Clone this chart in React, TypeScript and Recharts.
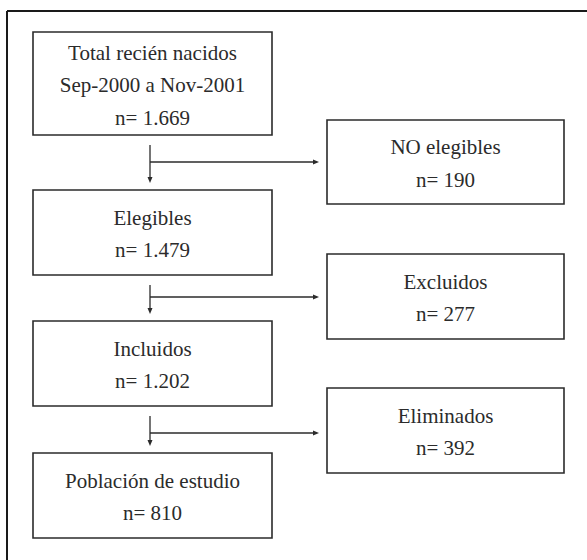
import { ScatterChart, XAxis, YAxis, ReferenceArea, ReferenceLine } from "recharts"

// flow steps (main column) and the branches that leave it
const mainLabels = [["Total recién nacidos", "Sep-2000 a Nov-2001"], ["Elegibles"], ["Incluidos"], ["Población de estudio"]]
const mainCounts = ["1.669", "1.479", "1.202", "810"]
const sideLabels = ["NO elegibles", "Excluidos", "Eliminados"]
const sideCounts = ["190", "277", "392"]

// layout (pixel units, y grows downward)
const W = 587
const H = 560
const mainTops = [32, 190, 321, 453]
const mainBottoms = [135, 275, 406, 538]
const sideTops = [120, 254, 388]
const sideBottoms = [204, 339, 473]
const mainX = [33, 272]
const sideX = [327, 564]
const stemX = 150
const branchY = [162, 297, 433]

const INK = "#2b2b2b"
const FONT = "'Liberation Serif', 'DejaVu Serif', serif"

const boxText = (lines: string[]) => (props: any) => {
  const { x, y, width, height } = props.viewBox
  const cy = y + height / 2 + 1.5
  const start = cy - ((lines.length - 1) * 32.5) / 2
  return (
    <g>
      {lines.map((t, i) => (
        <text
          key={i}
          x={x + width / 2}
          y={start + i * 32.5}
          textAnchor="middle"
          dominantBaseline="central"
          fontFamily={FONT}
          fontSize={21}
          fill={INK}
        >
          {t}
        </text>
      ))}
    </g>
  )
}

const arrow = (head: boolean) => (p: any) => {
  const { x1, y1, x2, y2 } = p
  const dx = x2 - x1
  const dy = y2 - y1
  const len = Math.sqrt(dx * dx + dy * dy) || 1
  const ux = dx / len
  const uy = dy / len
  const L = 6
  const w = 2.5
  const bx = x2 - ux * L
  const by = y2 - uy * L
  return (
    <g>
      <line x1={x1} y1={y1} x2={head ? bx : x2} y2={head ? by : y2} stroke={INK} strokeWidth={1.3} />
      {head && (
        <polygon
          points={`${x2},${y2} ${bx - uy * w},${by + ux * w} ${bx + uy * w},${by - ux * w}`}
          fill={INK}
        />
      )}
    </g>
  )
}

export default function App() {
  return (
    <div style={{ background: "#fff" }}>
      <style>{"body{margin:0}"}</style>
      <ScatterChart width={W} height={H} margin={{ top: 0, right: 0, bottom: 0, left: 0 }}>
        <XAxis type="number" dataKey="x" domain={[0, W]} hide allowDataOverflow />
        <YAxis type="number" dataKey="y" domain={[0, H]} reversed hide allowDataOverflow />

        {/* outer frame (only top and left edges fall inside the picture) */}
        <ReferenceLine segment={[{ x: 7, y: 11 }, { x: W, y: 11 }]} stroke="#1a1a1a" strokeWidth={2} ifOverflow="visible" />
        <ReferenceLine segment={[{ x: 7, y: 11 }, { x: 7, y: H }]} stroke="#1a1a1a" strokeWidth={2} ifOverflow="visible" />

        {mainLabels.map((lines, i) => (
          <ReferenceArea
            key={"m" + i}
            x1={mainX[0]}
            x2={mainX[1]}
            y1={mainTops[i]}
            y2={mainBottoms[i]}
            fill="#fff"
            fillOpacity={1}
            stroke={INK}
            strokeWidth={1.6}
            ifOverflow="visible"
            label={boxText([...lines, "n= " + mainCounts[i]])}
          />
        ))}

        {sideLabels.map((name, i) => (
          <ReferenceArea
            key={"s" + i}
            x1={sideX[0]}
            x2={sideX[1]}
            y1={sideTops[i]}
            y2={sideBottoms[i]}
            fill="#fff"
            fillOpacity={1}
            stroke={INK}
            strokeWidth={1.6}
            ifOverflow="visible"
            label={boxText([name, "n= " + sideCounts[i]])}
          />
        ))}

        {sideLabels.map((_, i) => (
          <ReferenceLine
            key={"v" + i}
            segment={[{ x: stemX, y: mainBottoms[i] + 10 }, { x: stemX, y: mainTops[i + 1] - 7 }]}
            ifOverflow="visible"
            shape={arrow(true)}
          />
        ))}
        {sideLabels.map((_, i) => (
          <ReferenceLine
            key={"h" + i}
            segment={[{ x: stemX, y: branchY[i] }, { x: sideX[0] - 8, y: branchY[i] }]}
            ifOverflow="visible"
            shape={arrow(true)}
          />
        ))}
      </ScatterChart>
    </div>
  )
}
